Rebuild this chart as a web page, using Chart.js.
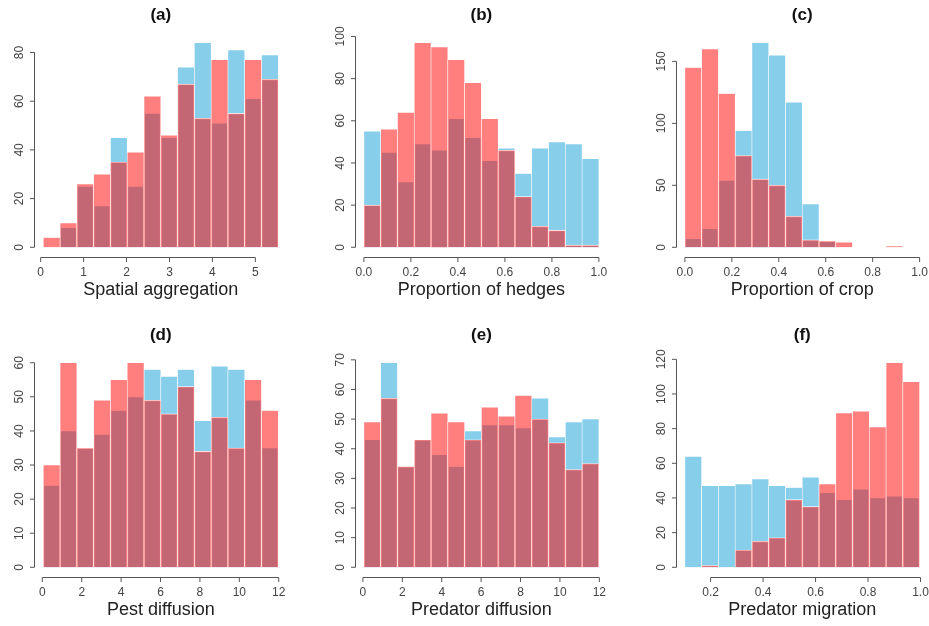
<!DOCTYPE html>
<html>
<head>
<meta charset="utf-8">
<title>Parameter histograms</title>
<script src="https://cdn.jsdelivr.net/npm/chart.js@4.4.0/dist/chart.umd.min.js"></script>
<style>
  html, body { margin: 0; padding: 0; background: #fff; }
  #wrap { position: relative; width: 929px; height: 626px; overflow: hidden; }
  #wrap canvas { position: absolute; left: 0; top: 0; }
</style>
</head>
<body>
<div id="wrap">
  <canvas id="pa" width="929" height="626"></canvas>
  <canvas id="pb" width="929" height="626"></canvas>
  <canvas id="pc" width="929" height="626"></canvas>
  <canvas id="pd" width="929" height="626"></canvas>
  <canvas id="pe" width="929" height="626"></canvas>
  <canvas id="pf" width="929" height="626"></canvas>
</div>
<script>
// histogram bins: first break and bin width (14 bins each)
const aBreak0 = 0.061, aBinWidth = 0.391;
const bBreak0 = 0, bBinWidth = 1 / 14;
const cBreak0 = 0, cBinWidth = 1 / 14;
const dBreak0 = 0.05, dBinWidth = 0.852;
const eBreak0 = 0.05, eBinWidth = 0.852;
const fBreak0 = 0.102, fBinWidth = 0.0639;

// counts per bin (blue and red samples)
const aBlue = [0, 8, 25, 17, 45, 25, 55, 45, 74, 84, 51, 81, 61, 79];
const aRed  = [4, 10, 26, 30, 35, 39, 62, 46, 67, 53, 77, 55, 77, 69];
const bBlue = [55, 45, 31, 49, 46, 61, 52, 41, 47, 35, 47, 50, 49, 42];
const bRed  = [20, 56, 64, 97, 95, 89, 78, 61, 46, 24, 10, 8, 1, 1];
const cBlue = [7, 15, 54, 94, 165, 155, 117, 35, 5, 0, 0, 0, 0, 0];
const cRed  = [145, 160, 124, 74, 55, 50, 25, 6, 5, 4, 0, 0, 1, 0];
const dBlue = [24, 40, 35, 39, 46, 50, 58, 56, 58, 43, 59, 58, 49, 35];
const dRed  = [30, 60, 35, 49, 55, 60, 49, 45, 53, 34, 44, 35, 55, 46];
const eBlue = [43, 69, 34, 43, 38, 34, 46, 48, 48, 47, 57, 44, 49, 50];
const eRed  = [49, 57, 34, 43, 52, 49, 43, 54, 51, 58, 50, 42, 33, 35];
const fBlue = [64, 47, 47, 48, 51, 47, 46, 52, 43, 39, 45, 40, 41, 40];
const fRed  = [0, 1, 0, 10, 15, 17, 39, 35, 48, 89, 90, 81, 118, 107];

// tick labels
const aXTicks = ["0", "1", "2", "3", "4", "5"];
const aYTicks = ["0", "20", "40", "60", "80"];
const bXTicks = ["0.0", "0.2", "0.4", "0.6", "0.8", "1.0"];
const bYTicks = ["0", "20", "40", "60", "80", "100"];
const cXTicks = ["0.0", "0.2", "0.4", "0.6", "0.8", "1.0"];
const cYTicks = ["0", "50", "100", "150"];
const dXTicks = ["0", "2", "4", "6", "8", "10", "12"];
const dYTicks = ["0", "10", "20", "30", "40", "50", "60"];
const eXTicks = ["0", "2", "4", "6", "8", "10", "12"];
const eYTicks = ["0", "10", "20", "30", "40", "50", "60", "70"];
const fXTicks = ["0.2", "0.4", "0.6", "0.8", "1.0"];
const fYTicks = ["0", "20", "40", "60", "80", "100", "120"];

const titles = ["(a)", "(b)", "(c)", "(d)", "(e)", "(f)"];
const xLabels = ["Spatial aggregation", "Proportion of hedges", "Proportion of crop",
                 "Pest diffusion", "Predator diffusion", "Predator migration"];

// plot regions on the page
const colLeft = [33.9, 354.5, 675.5];
const colRight = [287.7, 608.3, 929];
const rowTop = [2.7, 322.7];
const rowBottom = [256.7, 576.7];
const rowOffset = [0, 320];

const FONT = '"Liberation Sans", Arial, Helvetica, sans-serif';

// R-like axes drawn with the chart's own scales
const rAxes = {
  id: 'rAxes',
  afterDraw(chart, args, o) {
    const { ctx, chartArea: ca } = chart;
    const xs = chart.scales.x, ys = chart.scales.y;
    ctx.save();
    ctx.strokeStyle = '#555';
    ctx.lineWidth = 1;

    // y axis
    const ax = Math.round(ca.left) + 0.5;
    const yp = o.yTicks.map(t => ys.getPixelForValue(Number(t)));
    ctx.beginPath();
    ctx.moveTo(ax, yp[0]);
    ctx.lineTo(ax, yp[yp.length - 1]);
    yp.forEach(p => { ctx.moveTo(ax, p); ctx.lineTo(ax - 4.5, p); });
    ctx.stroke();
    ctx.fillStyle = '#444';
    ctx.font = '12px ' + FONT;
    ctx.textAlign = 'center';
    ctx.textBaseline = 'middle';
    o.yTicks.forEach((t, i) => {
      ctx.save();
      ctx.translate(ax - 14.5, yp[i]);
      ctx.rotate(-Math.PI / 2);
      ctx.fillText(t, 0, 0);
      ctx.restore();
    });

    // x axis
    const ay = Math.round(ca.bottom) + 0.5;
    const xp = o.xTicks.map(t => xs.getPixelForValue(Number(t)));
    ctx.beginPath();
    ctx.moveTo(xp[0], ay);
    ctx.lineTo(xp[xp.length - 1], ay);
    xp.forEach(p => { ctx.moveTo(p, ay); ctx.lineTo(p, ay + 4.5); });
    ctx.stroke();
    o.xTicks.forEach((t, i) => ctx.fillText(t, xp[i], ay + 15));

    // labels
    const cx = (ca.left + ca.right) / 2;
    ctx.fillStyle = '#222';
    ctx.font = '18px ' + FONT;
    ctx.fillText(o.xLabel, cx, o.off + 290.5);
    ctx.fillStyle = '#111';
    ctx.font = 'bold 17px ' + FONT;
    ctx.fillText(o.title, cx, o.off + 15);
    ctx.restore();
  }
};

function makeHist(id, idx, break0, binWidth, blue, red, xTicks, yTicks) {
  const col = idx % 3, row = Math.floor(idx / 3);
  const toPoints = arr => arr.map((v, i) => ({ x: break0 + (i + 0.5) * binWidth, y: v }));
  const span = binWidth * blue.length;
  const xMin = break0 - 0.04 * span;
  const pxPerUnit = (colRight[col] - colLeft[col]) / (1.08 * span);
  const xMax = xMin + (colRight[col] - colLeft[col]) / pxPerUnit;
  const top = 1.15 * Math.max(...blue, ...red);

  new Chart(document.getElementById(id), {
    type: 'bar',
    data: {
      datasets: [
        { data: toPoints(red), backgroundColor: 'rgba(255,0,0,0.5)', order: 0 },
        { data: toPoints(blue), backgroundColor: '#87CEEB', order: 1 }
      ]
    },
    options: {
      responsive: false,
      animation: false,
      events: [],
      grouped: false,
      barPercentage: 1,
      categoryPercentage: 1,
      borderColor: '#ffffff',
      borderWidth: 0.6,
      layout: {
        padding: {
          left: colLeft[col],
          right: 929 - colRight[col],
          top: rowTop[row],
          bottom: 626 - rowBottom[row]
        }
      },
      scales: {
        x: { type: 'linear', min: xMin, max: xMax, offset: false, display: false },
        y: { type: 'linear', min: -0.04 * top, max: 1.04 * top, display: false }
      },
      plugins: {
        legend: { display: false },
        tooltip: { enabled: false },
        rAxes: {
          xTicks: xTicks, yTicks: yTicks,
          title: titles[idx], xLabel: xLabels[idx], off: rowOffset[row]
        }
      }
    },
    plugins: [rAxes]
  });
}

makeHist('pa', 0, aBreak0, aBinWidth, aBlue, aRed, aXTicks, aYTicks);
makeHist('pb', 1, bBreak0, bBinWidth, bBlue, bRed, bXTicks, bYTicks);
makeHist('pc', 2, cBreak0, cBinWidth, cBlue, cRed, cXTicks, cYTicks);
makeHist('pd', 3, dBreak0, dBinWidth, dBlue, dRed, dXTicks, dYTicks);
makeHist('pe', 4, eBreak0, eBinWidth, eBlue, eRed, eXTicks, eYTicks);
makeHist('pf', 5, fBreak0, fBinWidth, fBlue, fRed, fXTicks, fYTicks);
</script>
</body>
</html>
